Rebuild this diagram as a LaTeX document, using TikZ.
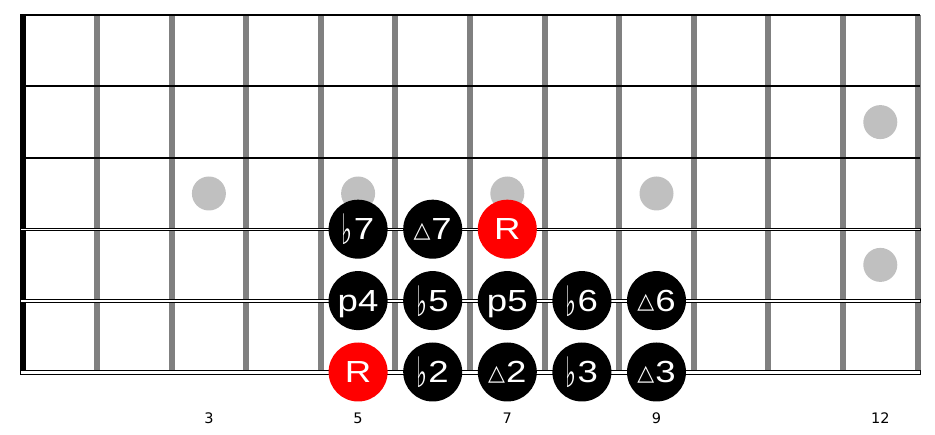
\documentclass[tikz,border=0pt]{standalone}
\usepackage{fontspec}
\setmainfont{Liberation Sans}
\newfontfamily\notefont[FakeStretch=1.2]{Liberation Sans}
\newfontfamily\symfont{DejaVu Sans}
\definecolor{fretgray}{HTML}{808080}
\definecolor{inlaygray}{HTML}{C0C0C0}
\definecolor{rootred}{HTML}{FF0000}
\newcommand\myflat{{\symfont\fontsize{42}{42}\selectfont\raisebox{-5pt}{\scalebox{0.55}[1]{♭}}}\kern1pt}
\newcommand\mytri{{\symfont\fontsize{22}{22}\selectfont\raisebox{2.5pt}{△}}\kern1pt}
\begin{document}
\begin{tikzpicture}[x=1pt,y=-1pt,
  note/.style={circle, fill=black, text=white, minimum size=59pt, inner sep=0pt,
    text height=21.5pt, text depth=0pt, font=\notefont\fontsize{30.5}{30.5}\selectfont},
  rootnote/.style={note, fill=rootred},
  inlay/.style={circle, fill=inlaygray, minimum size=34pt, inner sep=0pt},
  fretnum/.style={font=\symfont\fontsize{14.5}{14.5}\selectfont, inner sep=0pt}]
\useasboundingbox (0,0) rectangle (935,435);
% frets
\foreach \n in {1,...,12}
  \fill[fretgray] ({22.4+74.6*\n-3},15) rectangle ({22.4+74.6*\n+3},372);
% nut
\fill[black] (20,15) rectangle (26,372);
% inlays
\node[inlay] (d3) at ({22.4+74.6*2.5},193.5) {};
\node[inlay] (d5) at ({22.4+74.6*4.5},193.5) {};
\node[inlay] (d7) at ({22.4+74.6*6.5},193.5) {};
\node[inlay] (d9) at ({22.4+74.6*8.5},193.5) {};
\node[inlay] (d12a) at ({22.4+74.6*11.5},122.1) {};
\node[inlay] (d12b) at ({22.4+74.6*11.5},264.9) {};
% strings
\draw[line width=1.8pt] (20,15) -- (920,15);
\draw[line width=1.8pt] (20,86.4) -- (920,86.4);
\draw[line width=1.8pt] (20,157.8) -- (920,157.8);
\draw[line width=0.9pt, fill=white] (20,228.0) rectangle (920,230.6);
\draw[line width=0.9pt, fill=white] (20,299.1) rectangle (920,302.1);
\draw[line width=0.9pt, fill=white] (20,370.0) rectangle (920,374.0);
% notes string 4
\node[note] (n1) at ({22.4+74.6*4.5},229.2) {\myflat7};
\node[note] (n2) at ({22.4+74.6*5.5},229.2) {\mytri7};
\node[rootnote] (n3) at ({22.4+74.6*6.5},229.2) {R};
% notes string 5
\node[note] (n4) at ({22.4+74.6*4.5},300.6) {p4};
\node[note] (n5) at ({22.4+74.6*5.5},300.6) {\myflat5};
\node[note] (n6) at ({22.4+74.6*6.5},300.6) {p5};
\node[note] (n7) at ({22.4+74.6*7.5},300.6) {\myflat6};
\node[note] (n8) at ({22.4+74.6*8.5},300.6) {\mytri6};
% notes string 6
\node[rootnote] (n9) at ({22.4+74.6*4.5},372) {R};
\node[note] (n10) at ({22.4+74.6*5.5},372) {\myflat2};
\node[note] (n11) at ({22.4+74.6*6.5},372) {\mytri2};
\node[note] (n12) at ({22.4+74.6*7.5},372) {\myflat3};
\node[note] (n13) at ({22.4+74.6*8.5},372) {\mytri3};
% fret numbers
\node[fretnum] (f3) at ({22.4+74.6*2.5},418) {3};
\node[fretnum] (f5) at ({22.4+74.6*4.5},418) {5};
\node[fretnum] (f7) at ({22.4+74.6*6.5},418) {7};
\node[fretnum] (f9) at ({22.4+74.6*8.5},418) {9};
\node[fretnum] (f12) at ({22.4+74.6*11.5},418) {12};
\end{tikzpicture}
\end{document}
